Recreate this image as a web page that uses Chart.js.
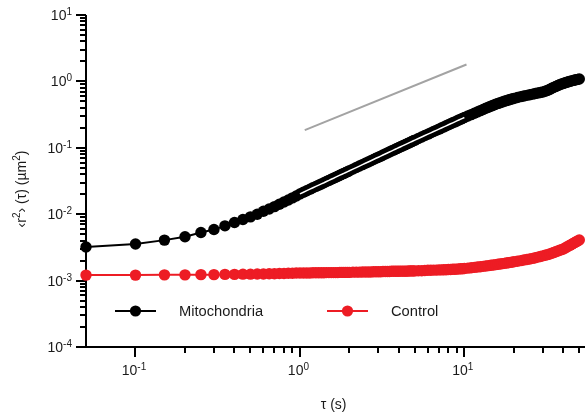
<!DOCTYPE html>
<html>
<head>
<meta charset="utf-8">
<script src="https://cdn.jsdelivr.net/npm/chart.js@4.4.0/dist/chart.umd.min.js"></script>
<style>
  html, body { margin: 0; padding: 0; background: #fff; }
  #wrap { width: 585px; height: 415px; }
</style>
</head>
<body>
<div id="wrap"><canvas id="msd" width="585" height="415"></canvas></div>
<script>
// Lag times (s)
const tau = [
  0.05, 0.1, 0.15, 0.2, 0.25, 0.3, 0.35, 0.4, 0.45, 0.5,
  0.55, 0.6, 0.65, 0.7, 0.75, 0.8, 0.85, 0.9, 0.95, 1.0,
  1.05, 1.1, 1.15, 1.2, 1.25, 1.3, 1.35, 1.4, 1.45, 1.5,
  1.55, 1.6, 1.65, 1.7, 1.75, 1.8, 1.85, 1.9, 1.95, 2.0,
  2.1, 2.2, 2.3, 2.4, 2.5, 2.6, 2.7, 2.8, 2.9, 3.0,
  3.1, 3.2, 3.3, 3.4, 3.5, 3.6, 3.7, 3.8, 3.9, 4.0,
  4.1, 4.2, 4.3, 4.4, 4.5, 4.6, 4.7, 4.8, 4.9, 5.0,
  5.25, 5.5, 5.75, 6.0, 6.25, 6.5, 6.75, 7.0, 7.25, 7.5,
  7.75, 8.0, 8.25, 8.5, 8.75, 9.0, 9.25, 9.5, 9.75, 10,
  10.5, 11, 11.5, 12, 12.5, 13, 13.5, 14, 14.5, 15,
  15.5, 16, 16.5, 17, 17.5, 18, 18.5, 19, 19.5, 20,
  21, 22, 23, 24, 25, 26, 27, 28, 29, 30,
  31, 32, 33, 34, 35, 36, 37, 38, 39, 40,
  41, 42, 43, 44, 45, 46, 47, 48, 49, 50
];

// Mean squared displacement (um^2), mitochondria
const mitochondria = [
  0.00320, 0.00355, 0.00407, 0.00457, 0.00531, 0.00589, 0.00668, 0.00750, 0.00832, 0.00912,
  0.0100, 0.0111, 0.0120, 0.0130, 0.0141, 0.0153, 0.0164, 0.0176, 0.0188, 0.0202,
  0.0214, 0.0226, 0.0238, 0.0250, 0.0262, 0.0274, 0.0286, 0.0298, 0.0311, 0.0323,
  0.0336, 0.0348, 0.0361, 0.0374, 0.0387, 0.0399, 0.0412, 0.0425, 0.0438, 0.0451,
  0.0478, 0.0504, 0.0531, 0.0558, 0.0585, 0.0612, 0.0639, 0.0667, 0.0695, 0.0722,
  0.0750, 0.0779, 0.0807, 0.0835, 0.0864, 0.0893, 0.0921, 0.0950, 0.0980, 0.1009,
  0.1038, 0.1067, 0.1097, 0.1127, 0.1156, 0.1186, 0.1216, 0.1246, 0.1276, 0.1306,
  0.1380, 0.1455, 0.1529, 0.1605, 0.1680, 0.1757, 0.1833, 0.1910, 0.1987, 0.2065,
  0.2143, 0.2221, 0.2300, 0.2379, 0.2458, 0.2538, 0.2617, 0.2697, 0.2778, 0.2858,
  0.301, 0.316, 0.332, 0.347, 0.363, 0.378, 0.394, 0.409, 0.424, 0.439,
  0.453, 0.466, 0.478, 0.490, 0.502, 0.513, 0.524, 0.535, 0.545, 0.555,
  0.573, 0.589, 0.603, 0.617, 0.630, 0.643, 0.656, 0.668, 0.680, 0.692,
  0.710, 0.732, 0.758, 0.787, 0.814, 0.841, 0.866, 0.891, 0.912, 0.933,
  0.953, 0.973, 0.989, 1.005, 1.020, 1.035, 1.049, 1.062, 1.074, 1.086
];

// Mean squared displacement (um^2), control
const control = [
  0.00121, 0.00121, 0.00122, 0.00122, 0.00123, 0.00123, 0.00124, 0.00124, 0.00125, 0.00125,
  0.00126, 0.00126, 0.00127, 0.00127, 0.00128, 0.00128, 0.00129, 0.00129, 0.00130, 0.00130,
  0.00130, 0.00130, 0.00130, 0.00131, 0.00131, 0.00131, 0.00131, 0.00131, 0.00132, 0.00132,
  0.00132, 0.00132, 0.00132, 0.00132, 0.00133, 0.00133, 0.00133, 0.00133, 0.00133, 0.00133,
  0.00134, 0.00134, 0.00134, 0.00135, 0.00135, 0.00135, 0.00135, 0.00136, 0.00136, 0.00136,
  0.00136, 0.00137, 0.00137, 0.00137, 0.00137, 0.00138, 0.00138, 0.00138, 0.00138, 0.00138,
  0.00139, 0.00139, 0.00139, 0.00139, 0.00139, 0.00140, 0.00140, 0.00140, 0.00140, 0.00140,
  0.00141, 0.00141, 0.00142, 0.00143, 0.00143, 0.00144, 0.00144, 0.00145, 0.00145, 0.00146,
  0.00146, 0.00147, 0.00147, 0.00148, 0.00148, 0.00149, 0.00150, 0.00151, 0.00151, 0.00152,
  0.00154, 0.00156, 0.00158, 0.00160, 0.00162, 0.00164, 0.00166, 0.00168, 0.00170, 0.00172,
  0.00174, 0.00176, 0.00178, 0.00180, 0.00182, 0.00184, 0.00186, 0.00188, 0.00190, 0.00192,
  0.00196, 0.00200, 0.00204, 0.00208, 0.00212, 0.00216, 0.00221, 0.00226, 0.00231, 0.00236,
  0.00241, 0.00246, 0.00252, 0.00258, 0.00265, 0.00272, 0.00279, 0.00286, 0.00293, 0.00300,
  0.00310, 0.00320, 0.00331, 0.00342, 0.00353, 0.00364, 0.00375, 0.00386, 0.00397, 0.00408
];

// Slope-1 guide line
const guideTau = [1.07, 10.3];
const guideMsd = [0.185, 1.8];

// Highlight segment drawn inside the mitochondria trace
const highlightFrom = 1.0;
const highlightTo = 10;

// Axis decades (powers of ten) and names
const xTickExponents = [-1, 0, 1];
const yTickExponents = [-4, -3, -2, -1, 0, 1];
const seriesNames = ['Mitochondria', 'Control'];

const BLACK = '#000000';
const RED = '#ed1c24';
const TEXT = '#1a1a1a';
const FONT = '"Liberation Sans", Arial, Helvetica, sans-serif';

const pts = (xs, ys) => xs.map((v, i) => ({ x: v, y: ys[i] }));
const mitoPts = pts(tau, mitochondria);
const highlightPts = mitoPts.filter(p => p.x >= highlightFrom && p.x <= highlightTo);

// Draw "10" with a raised exponent; align: 'right' or 'center'
function drawPower(ctx, exp, x, baseY, align) {
  const base = '10', sup = String(exp);
  ctx.font = '14px ' + FONT;
  const wb = ctx.measureText(base).width;
  ctx.font = '10px ' + FONT;
  const ws = ctx.measureText(sup).width;
  const total = wb + ws;
  const start = align === 'right' ? x - total : x - total / 2;
  ctx.textAlign = 'left';
  ctx.textBaseline = 'alphabetic';
  ctx.font = '14px ' + FONT;
  ctx.fillText(base, start, baseY);
  ctx.font = '10px ' + FONT;
  ctx.fillText(sup, start + wb, baseY - 5);
}

const axesPlugin = {
  id: 'axesPlugin',
  beforeDatasetsDraw(chart) {
    const { ctx, chartArea: a, scales: { x, y } } = chart;
    ctx.save();
    ctx.strokeStyle = BLACK;
    ctx.lineWidth = 2;
    ctx.lineCap = 'butt';
    ctx.beginPath();
    ctx.moveTo(a.left, a.top);
    ctx.lineTo(a.left, a.bottom + 1);
    ctx.moveTo(a.left - 1, a.bottom);
    ctx.lineTo(chart.width, a.bottom);
    ctx.stroke();

    ctx.beginPath();
    // y ticks: long at decades, short at 2..9
    yTickExponents.forEach(e => {
      const py = Math.round(y.getPixelForValue(Math.pow(10, e)));
      ctx.moveTo(a.left - 10, py); ctx.lineTo(a.left, py);
      if (e < yTickExponents[yTickExponents.length - 1]) {
        for (let m = 2; m <= 9; m++) {
          const my = Math.round(y.getPixelForValue(m * Math.pow(10, e)));
          ctx.moveTo(a.left - 6, my); ctx.lineTo(a.left, my);
        }
      }
    });
    // x ticks
    xTickExponents.forEach(e => {
      const px = Math.round(x.getPixelForValue(Math.pow(10, e)));
      ctx.moveTo(px, a.bottom); ctx.lineTo(px, a.bottom + 10);
      for (let m = 2; m <= 9; m++) {
        const v = m * Math.pow(10, e);
        if (v > x.max) break;
        const mx = Math.round(x.getPixelForValue(v));
        ctx.moveTo(mx, a.bottom); ctx.lineTo(mx, a.bottom + 6);
      }
    });
    ctx.stroke();
    ctx.restore();
  },
  afterDraw(chart) {
    const { ctx, chartArea: a, scales: { x, y } } = chart;
    ctx.save();
    ctx.fillStyle = TEXT;

    // tick labels
    yTickExponents.forEach(e => {
      const py = y.getPixelForValue(Math.pow(10, e));
      drawPower(ctx, e, a.left - 14, py + 5, 'right');
    });
    xTickExponents.forEach(e => {
      const px = x.getPixelForValue(Math.pow(10, e));
      drawPower(ctx, e, px - 1.5, a.bottom + 28, 'center');
    });

    // x title
    ctx.font = '14px ' + FONT;
    ctx.textAlign = 'center';
    ctx.textBaseline = 'alphabetic';
    ctx.fillText('τ (s)', (a.left + a.right) / 2 + 1, 409);

    // y title, rotated, with superscripts
    const parts = [
      ['‹r', false], ['2', true], ['› (τ) (µm', false], ['2', true], [')', false]
    ];
    const widths = parts.map(([t, s]) => {
      ctx.font = (s ? '10px ' : '14px ') + FONT;
      return ctx.measureText(t).width;
    });
    const total = widths.reduce((p, c) => p + c, 0);
    ctx.translate(26, 189);
    ctx.rotate(-Math.PI / 2);
    ctx.textAlign = 'left';
    let cx = -total / 2;
    parts.forEach(([t, s], i) => {
      ctx.font = (s ? '10px ' : '14px ') + FONT;
      ctx.fillText(t, cx, s ? -6 : 0);
      cx += widths[i];
    });
    ctx.restore();

    // legend
    ctx.save();
    const ds = chart.data.datasets;
    const entries = [
      { name: seriesNames[0], color: ds[2].borderColor, x0: 115 },
      { name: seriesNames[1], color: ds[3].borderColor, x0: 327 }
    ];
    const ly = 311;
    entries.forEach(en => {
      ctx.strokeStyle = en.color;
      ctx.fillStyle = en.color;
      ctx.lineWidth = 2;
      ctx.beginPath();
      ctx.moveTo(en.x0, ly); ctx.lineTo(en.x0 + 41, ly);
      ctx.stroke();
      ctx.beginPath();
      ctx.arc(en.x0 + 20.5, ly, 5.6, 0, Math.PI * 2);
      ctx.fill();
      ctx.fillStyle = TEXT;
      ctx.font = '14.7px ' + FONT;
      ctx.textAlign = 'left';
      ctx.textBaseline = 'alphabetic';
      ctx.fillText(en.name, en.x0 + 64, ly + 5);
    });
    ctx.restore();
  }
};

new Chart(document.getElementById('msd'), {
  type: 'scatter',
  data: {
    datasets: [
      {
        label: 'highlight',
        data: highlightPts,
        showLine: true,
        borderColor: '#ffffff',
        borderWidth: 1.5,
        pointRadius: 0,
        clip: false
      },
      {
        label: 'slope 1',
        data: pts(guideTau, guideMsd),
        showLine: true,
        borderColor: '#a3a3a3',
        borderWidth: 2,
        pointRadius: 0,
        clip: false
      },
      {
        label: seriesNames[0],
        data: mitoPts,
        showLine: true,
        borderColor: BLACK,
        backgroundColor: BLACK,
        borderWidth: 2,
        pointRadius: 5.7,
        pointBorderWidth: 0,
        pointBackgroundColor: BLACK,
        clip: false
      },
      {
        label: seriesNames[1],
        data: pts(tau, control),
        showLine: true,
        borderColor: RED,
        backgroundColor: RED,
        borderWidth: 2,
        pointRadius: 5.7,
        pointBorderWidth: 0,
        pointBackgroundColor: RED,
        clip: false
      }
    ]
  },
  options: {
    responsive: false,
    animation: false,
    devicePixelRatio: 1,
    layout: { padding: { left: 86, right: 1, top: 15, bottom: 68 } },
    plugins: { legend: { display: false }, tooltip: { enabled: false } },
    scales: {
      x: { type: 'logarithmic', min: 0.05, max: 50, display: false },
      y: { type: 'logarithmic', min: 1e-4, max: 10, display: false }
    }
  },
  plugins: [axesPlugin]
});
</script>
</body>
</html>
